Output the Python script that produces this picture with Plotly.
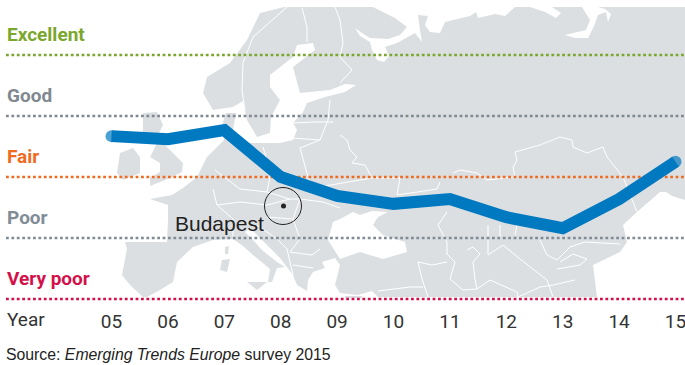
import plotly.graph_objects as go

# ---- chart data ----
years = [2005, 2006, 2007, 2008, 2009, 2010, 2011, 2012, 2013, 2014, 2015]
year_labels = ["05", "06", "07", "08", "09", "10", "11", "12", "13", "14", "15"]
sentiment = [3.67, 3.62, 3.77, 3.0, 2.69, 2.56, 2.64, 2.34, 2.16, 2.64, 3.25]
level_names = ["Excellent", "Good", "Fair", "Poor", "Very poor"]
level_values = [5, 4, 3, 2, 1]
level_colors = ["#7BA72E", "#808890", "#EE6C22", "#808C96", "#D4104A"]

# ---- decorative backdrop map outlines, in picture pixels ----
land = [(284,7),(260,13),(247,40),(230,63),(207,77),(203,93),(213,110),(233,107),(243,101),(247,120),(257,137),(270,133),
        (271,117),(280,100),(270,87),(270,75),(293,57),(297,45),(313,43),(315,50),(293,67),(300,93),(330,90),(345,84),(356,85),
        (345,92),(325,97),(307,103),(303,112),(293,123),(297,130),(293,140),(280,143),(263,143),(245,143),(238,140),(233,130),
        (236,113),(226,113),(222,125),(224,140),(207,157),(197,177),(183,188),(172,195),(150,199),(168,205),(168,220),(167,242),
        (145,242),(125,242),(127,249),(122,275),(130,285),(143,297),(147,297),(160,290),(173,282),(177,262),(193,247),(213,240),
        (233,239),(243,246),(253,255),(270,269),(268,282),(272,282),(277,268),(285,267),(277,262),(262,250),(253,240),(245,232),
        (250,228),(262,240),(280,258),(293,275),(297,285),(307,291),(308,280),(313,272),(325,268),(322,262),(335,258),(340,265),
        (335,285),(340,293),(358,295),(372,291),(378,297),(597,297),(593,265),(620,252),(627,242),(623,225),(637,212),(660,192),
        (666,192),(672,196),(685,200),(685,7)]
uk = [(143,113),(157,112),(163,125),(157,137),(167,147),(183,163),(182,172),(170,178),(150,186),(150,178),(160,172),(160,163),
      (150,157),(157,143),(143,133)]
ireland = [(120,153),(133,148),(140,157),(140,173),(123,180),(117,173)]
islands = [[(225,247),(229,246),(228,254),(225,254)],
           [(222,260),(230,259),(227,272),(220,270)],
           [(247,282),(267,282),(257,290)],
           [(345,296),(362,296),(362,298),(345,298)]]
seas = [[(373,7),(395,18),(407,27),(400,35),(388,39),(370,38),(362,33),(355,28),(360,36),(370,42),(372,50),(377,60),(384,62),
         (389,56),(385,47),(397,43),(415,33),(422,42),(420,30),(418,15),(428,16),(425,25),(430,32),(440,33),(445,22),(470,16),
         (476,12),(478,18),(495,14),(505,16),(515,7)],
        [(530,7),(545,12),(556,18),(561,13),(552,7)],
        [(582,7),(590,20),(586,30),(565,35),(575,38),(588,38),(594,26),(598,15),(606,12),(608,22),(611,14),(605,9),(598,7)],
        [(340,259),(360,252),(383,259),(407,252),(405,242),(383,235),(373,225),(378,217),(388,212),(372,211),(360,215),(353,212),
         (340,219),(333,222),(328,240)]]
borders = [[(287,7),(253,37),(243,63),(242,90),(245,110)],
           [(302,8),(307,27),(307,42)],
           [(335,7),(340,20),(343,43),(340,57),(352,70),(340,83)],
           [(293,123),(315,122),(333,122)],[(293,138),(320,140)],
           [(330,100),(328,120),(320,140),(300,148),(308,177),(313,188)],
           [(263,147),(267,160),(270,177),(267,192)],
           [(340,135),(347,140),(350,150),(357,157),(352,163),(365,165),(372,178)],
           [(213,189),(217,205),(233,219),(233,239)],
           [(217,205),(240,202),(267,205),(290,199),(300,199),(293,219)],
           [(240,189),(267,192),(290,199)],[(215,170),(240,189)],[(267,217),(293,219),(300,239),(290,252)],
           [(257,225),(277,239),(287,249),(293,275)],[(290,252),(312,255),(320,249)],[(293,265),(313,268)],
           [(300,199),(323,202),(340,208)],[(313,188),(372,178),(400,178),(397,195),(437,189),(440,182)],
           [(453,173),(460,170),(477,173),(487,180),(515,177),(513,167),(517,160),(515,152),(540,145),(560,137),(572,140),
            (573,147),(587,153),(603,147),(607,157),(623,177),(637,212)],
           [(447,212),(438,225),(447,242),(447,254),(455,262),(450,279),(463,290),(477,289),(490,280),(517,292),(518,297)],
           [(467,250),(473,247),(480,254),(473,262),(475,279),(477,289)],
           [(488,225),(488,255),(503,245),(520,259),(547,280),(553,297)],
           [(518,297),(540,287),(553,285),(575,280)],
           [(540,240),(547,255),(557,260),(570,247),(585,242),(620,244)],
           [(557,269),(580,265),(587,259),(573,254),(560,262)],
           [(500,225),(500,239)],[(517,225),(515,235)],
           [(418,262),(422,279),(428,297)],[(378,291),(410,287),(423,287)],
           [(418,262),(432,265),(447,262)]]

# ---- positions of the frame, in picture pixels ----
W, H = 685, 365
X05, YEAR_STEP = 111.5, 56.4
Y1_PX, LEVEL_STEP = 299.0, 61.0
AXIS_PX = 303.0
LINE_START = 2005 - (X05 - 6) / YEAR_STEP
x_lo = 2005 - X05 / YEAR_STEP
x_hi = 2005 + (W - X05) / YEAR_STEP
y_hi = 1 + Y1_PX / LEVEL_STEP
y_lo = 1 - (AXIS_PX - Y1_PX) / LEVEL_STEP
LABEL_FONT = "Roboto"

fig = go.Figure()

def poly(points, color=None):
    xs = [p[0] for p in points] + [points[0][0]]
    ys = [p[1] for p in points] + [points[0][1]]
    fig.add_trace(go.Scatter(x=xs, y=ys, mode="lines", fill="toself", fillcolor=color,
                             line=dict(width=0, color=color), hoverinfo="skip", showlegend=False,
                             xaxis="x", yaxis="y"))

LAND = "#DCDFE2"
poly(land, LAND)
poly(uk, LAND)
poly(ireland, LAND)
for isl in islands:
    poly(isl, LAND)
for sea in seas:
    poly(sea, "#FFFFFF")
for b in borders:
    fig.add_trace(go.Scatter(x=[p[0] for p in b], y=[p[1] for p in b], mode="lines",
                             line=dict(color="#FFFFFF", width=1), hoverinfo="skip", showlegend=False,
                             xaxis="x", yaxis="y"))

# Budapest marker
fig.add_trace(go.Scatter(x=[283], y=[206], mode="markers", showlegend=False, hoverinfo="skip",
                         marker=dict(symbol="circle-open", size=37, color="#222222", line=dict(color="#222222", width=1))))
fig.add_trace(go.Scatter(x=[283.5], y=[206], mode="markers", showlegend=False, hoverinfo="skip",
                         marker=dict(size=5, color="#222222")))

# level lines
for v, c in zip(level_values, level_colors):
    fig.add_trace(go.Scatter(x=[LINE_START, x_hi], y=[v, v], mode="lines", cliponaxis=False,
                             line=dict(color=c, width=2.7, dash="2.8px,2.6px"),
                             hoverinfo="skip", showlegend=False, xaxis="x2", yaxis="y2"))

# series
sizes = [12] + [0] * (len(years) - 2) + [12]
fig.add_trace(go.Scatter(x=years, y=sentiment, mode="lines+markers", cliponaxis=False,
                         line=dict(color="#0079C1", width=12),
                         marker=dict(size=sizes, color="#0079C1", line=dict(width=0)),
                         showlegend=False, xaxis="x2", yaxis="y2"))

for name, v, c in zip(level_names, level_values, level_colors):
    fig.add_annotation(x=LINE_START, y=v, xref="x2", yref="y2", text=f"<b>{name}</b>", showarrow=False,
                       xanchor="left", yanchor="bottom", xshift=-1, yshift=7,
                       font=dict(family=LABEL_FONT, size=19, color=c))

fig.add_annotation(x=LINE_START, y=1, xref="x2", yref="y2", text="Year", showarrow=False, xanchor="left",
                   yanchor="top", xshift=-1, yshift=-7, font=dict(family=LABEL_FONT, size=19, color="#333333"))
fig.add_annotation(x=173, y=223.5, xref="x", yref="y", text="Budapest", showarrow=False, xanchor="left",
                   yanchor="middle", font=dict(family="Liberation Sans", size=21, color="#222222"))
fig.add_annotation(x=4, y=354, xref="x", yref="y", text="Source: <i>Emerging Trends Europe</i> survey 2015",
                   showarrow=False, xanchor="left", yanchor="middle",
                   font=dict(family="Liberation Sans", size=15.8, color="#222222"))

fig.update_layout(
    width=W, height=H, margin=dict(l=0, r=0, t=0, b=0), autosize=False,
    paper_bgcolor="#FFFFFF", plot_bgcolor="rgba(0,0,0,0)", showlegend=False,
    xaxis=dict(range=[0, W], domain=[0, 1], visible=False, fixedrange=True),
    yaxis=dict(range=[H, 0], domain=[0, 1], visible=False, fixedrange=True),
    xaxis2=dict(range=[x_lo, x_hi], domain=[0, 1], anchor="y2", tickmode="array", tickvals=years,
                ticktext=year_labels, showgrid=False, zeroline=False, showline=False, ticks="outside",
                ticklen=1, tickcolor="rgba(0,0,0,0)", fixedrange=True, ticklabeloverflow="allow",
                tickfont=dict(family=LABEL_FONT, size=19, color="#333333")),
    yaxis2=dict(range=[y_lo, y_hi], domain=[(H - AXIS_PX) / H, 1], anchor="x2", visible=False, fixedrange=True),
)
fig.write_html("out.html", config={"displayModeBar": False},
               post_script="document.body.style.margin='0';")
